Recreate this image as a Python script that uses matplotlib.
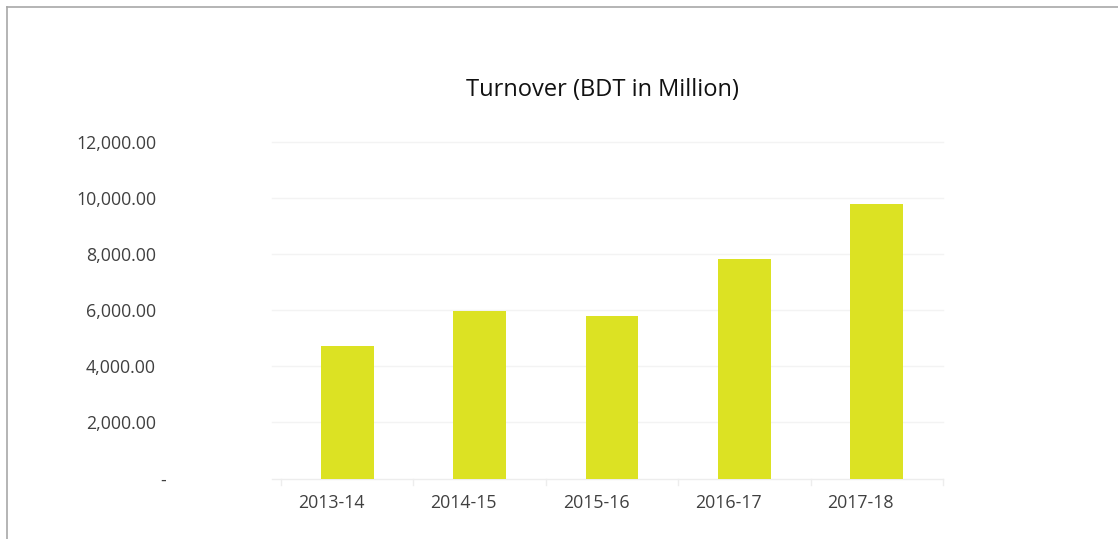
import matplotlib
matplotlib.use("Agg")
import matplotlib.pyplot as plt
from matplotlib.ticker import FuncFormatter
from matplotlib.lines import Line2D
from matplotlib.transforms import ScaledTranslation, blended_transform_factory

categories = ["2013-14", "2014-15", "2015-16", "2016-17", "2017-18"]
turnover = [4710, 5980, 5780, 7810, 9780]
yticks = [0, 2000, 4000, 6000, 8000, 10000, 12000]
title = "Turnover (BDT in Million)"

plt.rcParams['font.family'] = ['Open Sans', 'DejaVu Sans']

W, H = 1118, 539
L, R, B, T = 281, 943, 478.5, 141.7
fig = plt.figure(figsize=(W / 100, H / 100), dpi=100)
ax = fig.add_axes([L / W, 1 - B / H, (R - L) / W, (B - T) / H])

x = list(range(len(categories)))
ax.bar(x, turnover, width=0.40, color="#DCE223", zorder=3)
ax.set_xlim(-0.5, len(categories) - 0.5)
ax.set_ylim(0, 12000)
ax.set_yticks(yticks)

def fmt(v, pos):
    if v == 0:
        return "-"
    return f"{v:,.2f}"

ax.yaxis.set_major_formatter(FuncFormatter(fmt))
ax.set_xticks(x)
ax.set_xticklabels(categories)
ax.tick_params(axis='x', length=0, pad=11, labelsize=12.8, colors="#404040")
ax.tick_params(axis='y', length=0, pad=90, labelsize=12.8, colors="#404040")
for lbl in ax.get_xticklabels():
    lbl.set_transform(lbl.get_transform() + ScaledTranslation(-16 / 100, 0, fig.dpi_scale_trans))
ylabels = ax.get_yticklabels()
for lbl in ylabels:
    lbl.set_horizontalalignment('right')
ylabels[0].set_transform(ylabels[0].get_transform() + ScaledTranslation(10 / 100, 0, fig.dpi_scale_trans))

for s in ax.spines.values():
    s.set_visible(False)

# light gridlines extending slightly left of the category area
btf = blended_transform_factory(ax.transAxes, ax.transData)
x0 = -(L - 272) / (R - L)
for yv in yticks:
    c = "#EDEDED" if yv == 0 else "#F3F3F3"
    ax.plot([x0, 1], [yv, yv], color=c, linewidth=1, transform=btf, clip_on=False, zorder=1)

# category separator ticks
for b in [i - 0.5 for i in range(len(categories) + 1)]:
    ax.plot([b, b], [0, -230], color="#EDEDED", linewidth=1, clip_on=False, zorder=2)

fig.text(602 / W, 1 - 90 / H, title, ha='center', va='center', fontsize=17, color="#111111")

# outer frame (left and top)
fig.add_artist(Line2D([7 / W, 7 / W], [0, 1 - 7 / H], color="#A8A8A8", linewidth=1.2, transform=fig.transFigure))
fig.add_artist(Line2D([7 / W, 1], [1 - 7 / H, 1 - 7 / H], color="#A8A8A8", linewidth=1.2, transform=fig.transFigure))

fig.savefig("out.png", dpi=100)
